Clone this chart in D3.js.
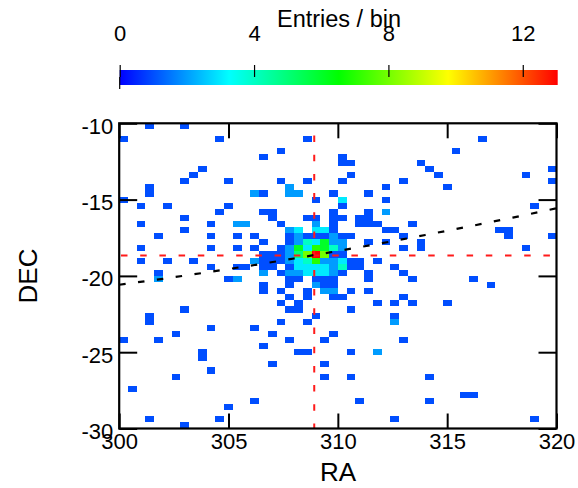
<!DOCTYPE html>
<html>
<head>
<meta charset="utf-8">
<script src="https://cdn.jsdelivr.net/npm/d3@7"></script>
<style>
  html, body { margin: 0; padding: 0; background: #fff; }
  svg { display: block; font-family: "Liberation Sans", Arial, Helvetica, sans-serif; }
</style>
</head>
<body>
<svg id="chart" width="578" height="488"></svg>
<script>
// ---------------- data ----------------
const raDomain = [300, 320];
const decDomain = [-30, -10];
const raTicks = [300, 305, 310, 315, 320];
const decTicks = [-10, -15, -20, -25, -30];
const colorTicks = [0, 4, 8, 12];
const colorMax = 13.04;
const binWidth = 0.4;

// lower DEC edge of each populated row of bins
const rowDecLow = [
  -10.4, -11.2, -12.0, -12.4, -12.8, -13.2, -13.6, -14.0, -14.4, -14.8,
  -15.2, -15.6, -16.0, -16.4, -16.8, -17.2, -17.6, -18.0, -18.4, -18.8,
  -19.2, -19.6, -20.0, -20.4, -20.8, -21.2, -21.6, -22.0, -22.4, -22.8,
  -23.2, -23.6, -24.0, -24.4, -24.8, -25.2, -25.6, -26.0, -26.4, -26.8,
  -27.6, -28.0, -28.4, -28.8, -29.6, -30.0
];
// lower RA edge of each filled bin, per row
const rowRaLow = [
  [301.2, 302.8],
  [300.0, 304.4, 308.4, 316.4],
  [307.2, 315.2],
  [306.4, 310.0],
  [310.0, 310.4, 313.6],
  [303.6, 314.0, 319.6],
  [303.2, 310.4, 314.4, 318.4],
  [302.8, 304.8, 307.2, 308.4, 310.0, 312.8, 319.6],
  [301.2, 307.6, 312.0, 314.8],
  [301.2, 306.0, 306.4, 307.6, 308.0, 309.6, 311.2],
  [300.0, 308.8, 310.0, 312.0],
  [300.8, 302.0, 304.8, 310.0, 318.8],
  [304.4, 306.4, 306.8, 309.6, 311.2, 312.0],
  [302.8, 306.8, 308.4, 308.8, 309.6, 310.0, 310.8, 311.2],
  [300.8, 304.0, 305.2, 305.6, 307.2, 308.8, 309.6, 310.8, 311.2, 311.6, 313.2],
  [302.8, 307.6, 308.0, 308.8, 309.2, 309.6, 312.0, 312.4, 317.2, 317.6],
  [301.6, 304.0, 305.2, 306.0, 307.6, 308.0, 308.4, 308.8, 309.2, 309.6, 310.0, 310.4, 312.8, 317.6, 319.6],
  [306.4, 307.6, 308.0, 308.4, 308.8, 309.2, 309.6, 310.0, 311.2, 312.0, 313.6],
  [300.8, 304.0, 305.2, 306.0, 307.2, 307.6, 308.0, 308.4, 308.8, 309.2, 309.6, 310.0, 312.8, 313.6, 318.4],
  [306.4, 306.8, 307.2, 307.6, 308.0, 308.4, 308.8, 309.2, 309.6, 310.0],
  [300.8, 302.0, 303.2, 306.0, 306.4, 306.8, 307.2, 307.6, 308.0, 308.4, 308.8, 309.2, 309.6, 310.0, 310.4, 310.8, 311.6],
  [304.0, 305.2, 305.6, 306.4, 306.8, 307.6, 308.0, 308.4, 308.8, 309.2, 309.6, 310.0, 310.4, 310.8, 312.4],
  [301.6, 306.4, 307.2, 307.6, 308.0, 308.4, 308.8, 309.2, 309.6, 310.0, 311.2, 312.8],
  [301.6, 304.8, 305.2, 307.6, 308.0, 308.8, 309.2, 309.6, 311.2, 313.2, 316.0],
  [306.4, 307.6, 308.8, 309.2, 309.6, 316.8],
  [306.4, 307.2, 308.4, 309.2, 309.6, 310.4, 311.2],
  [307.6, 308.4, 309.6, 310.0, 312.8],
  [307.2, 308.0, 311.6, 312.4, 313.2, 314.8],
  [302.8, 307.6, 308.0, 310.4],
  [301.2, 308.8, 312.4],
  [301.2, 307.2, 308.4, 312.4],
  [304.0, 306.0],
  [302.4, 306.8, 309.6],
  [300.0, 301.6, 307.6, 309.2, 312.8],
  [306.4],
  [303.6, 308.0, 308.4, 310.4, 311.6],
  [303.6],
  [306.8, 309.2],
  [304.0],
  [302.4, 309.2, 310.4, 314.0],
  [300.4],
  [315.6, 316.0],
  [306.0, 310.8, 314.0],
  [304.8],
  [301.2, 304.4, 312.4, 318.8],
  [302.8]
];
// entries in each filled bin, per row
const rowEntries = [
  [1, 1],
  [1, 1, 1, 1],
  [1, 1],
  [1, 1],
  [1, 1, 1],
  [1, 1, 1],
  [1, 1, 1, 1],
  [1, 1, 1, 1, 1, 1, 1],
  [1, 2, 1, 1],
  [1, 2, 1, 2, 2, 1, 1],
  [1, 1, 3, 1],
  [1, 1, 1, 1, 1],
  [1, 1, 1, 1, 1, 2],
  [1, 1, 1, 1, 1, 1, 1, 1],
  [1, 1, 2, 2, 1, 2, 1, 1, 1, 1, 1],
  [1, 2, 3, 3, 3, 1, 1, 1, 1, 1],
  [1, 1, 1, 1, 1, 2, 1, 1, 1, 2, 1, 1, 1, 1, 1],
  [1, 1, 2, 4, 3, 6, 2, 2, 1, 1, 1],
  [1, 1, 1, 1, 1, 2, 6, 3, 7, 6, 4, 2, 1, 1, 1],
  [1, 1, 1, 2, 5, 8, 13, 8, 1, 1],
  [1, 1, 1, 2, 1, 1, 1, 2, 3, 4, 7, 2, 2, 3, 1, 1, 1],
  [1, 1, 1, 1, 1, 1, 3, 3, 3, 3, 2, 4, 1, 1, 1],
  [1, 2, 1, 2, 2, 3, 3, 3, 2, 1, 1, 1],
  [2, 1, 2, 1, 1, 1, 1, 1, 1, 1, 1],
  [1, 1, 2, 1, 1, 1],
  [1, 1, 1, 2, 2, 1, 1],
  [1, 1, 1, 1, 1],
  [1, 1, 1, 1, 1, 1],
  [1, 1, 1, 1],
  [1, 1, 1],
  [1, 1, 1, 2],
  [1, 1],
  [1, 1, 1],
  [1, 1, 1, 1, 1],
  [1],
  [1, 1, 1, 1, 2],
  [1],
  [1, 1],
  [1],
  [1, 1, 1, 1],
  [1],
  [1, 1],
  [1, 1, 1],
  [1],
  [1, 1, 1, 1],
  [1]
];
// ecliptic curve (black dashed)
const eclRA = [300, 302, 304, 306, 308, 310, 312, 314, 316, 318, 320];
const eclDEC = [-20.58, -20.19, -19.77, -19.33, -18.86, -18.37, -17.86, -17.32, -16.76, -16.18, -15.57];
// source position (red dashed cross-hair)
const sourceRA = 308.92;
const sourceDEC = -18.66;

// ---------------- drawing ----------------
const svg = d3.select("#chart");
const x = d3.scaleLinear().domain(raDomain).range([119.2, 556.5]);
const y = d3.scaleLinear().domain(decDomain).range([428.5, 123.3]);
const cbX = d3.scaleLinear().domain([0, colorMax]).range([119.7, 557.7]);
const palette = ["#0000ff", "#00ffff", "#00ff00", "#ffff00", "#ff0000"];
const color = d3.scaleLinear()
  .domain(palette.map((_, i) => colorMax * i / (palette.length - 1)))
  .range(palette)
  .interpolate(d3.interpolateRgb);
const plainFormat = d => String(d);   // hyphen-minus, as in the reference

const cells = [];
rowDecLow.forEach((dec, r) => {
  rowRaLow[r].forEach((ra, k) => cells.push({ ra, dec, n: rowEntries[r][k] }));
});

svg.append("rect").attr("width", 578).attr("height", 488).attr("fill", "#fff");

// cells
svg.append("g").selectAll("rect").data(cells).join("rect")
  .attr("x", d => x(d.ra))
  .attr("y", d => y(d.dec + binWidth))
  .attr("width", d => x(d.ra + binWidth) - x(d.ra))
  .attr("height", d => y(d.dec) - y(d.dec + binWidth))
  .attr("fill", d => color(d.n))
  .attr("shape-rendering", "crispEdges");

// red cross-hair
svg.append("line")
  .attr("x1", x(raDomain[0])).attr("x2", x(raDomain[1]))
  .attr("y1", y(sourceDEC)).attr("y2", y(sourceDEC))
  .attr("stroke", "#ff1a1a").attr("stroke-width", 2)
  .attr("stroke-dasharray", "6.5,12.7").attr("stroke-dashoffset", -1.8);
svg.append("line")
  .attr("x1", x(sourceRA)).attr("x2", x(sourceRA))
  .attr("y1", y(decDomain[1])).attr("y2", y(decDomain[0]))
  .attr("stroke", "#ff1a1a").attr("stroke-width", 2)
  .attr("stroke-dasharray", "6.5,12.7").attr("stroke-dashoffset", 7);

// ecliptic
svg.append("path")
  .datum(eclRA.map((r, i) => [r, eclDEC[i]]))
  .attr("d", d3.line().x(d => x(d[0])).y(d => y(d[1])))
  .attr("fill", "none").attr("stroke", "#000").attr("stroke-width", 2.2)
  .attr("stroke-dasharray", "6.5,12.5");

// axes
const fontSize = 22;
function styleAxis(g) {
  g.select(".domain").remove();
  g.selectAll(".tick line").attr("stroke", "#000").attr("stroke-width", 2);
  g.selectAll("text").attr("font-size", fontSize).attr("fill", "#000")
    .attr("font-family", '"Liberation Sans", Arial, sans-serif');
}
svg.append("g").attr("transform", `translate(0,${y(-30)})`)
  .call(d3.axisBottom(x).tickValues(raTicks).tickFormat(plainFormat)
    .tickSizeInner(-15).tickSizeOuter(0).tickPadding(5))
  .call(styleAxis);
svg.append("g").attr("transform", `translate(0,${y(-10)})`)
  .call(d3.axisTop(x).tickValues(raTicks).tickSizeInner(-15).tickSizeOuter(0).tickFormat(""))
  .call(styleAxis);
svg.append("g").attr("transform", `translate(${x(300)},0)`)
  .call(d3.axisLeft(y).tickValues(decTicks).tickFormat(plainFormat)
    .tickSizeInner(-18).tickSizeOuter(0).tickPadding(6))
  .call(styleAxis)
  .call(g => g.selectAll("text").attr("dy", "0.45em"));
svg.append("g").attr("transform", `translate(${x(320)},0)`)
  .call(d3.axisRight(y).tickValues(decTicks).tickSizeInner(-18).tickSizeOuter(0).tickFormat(""))
  .call(styleAxis);

// frame
svg.append("rect")
  .attr("x", x(300)).attr("y", y(-10))
  .attr("width", x(320) - x(300)).attr("height", y(-30) - y(-10))
  .attr("fill", "none").attr("stroke", "#000").attr("stroke-width", 2.2);

// axis titles
svg.append("text").attr("x", 338).attr("y", 481).attr("text-anchor", "middle")
  .attr("font-size", 26).text("RA");
svg.append("text").attr("transform", "translate(37,276) rotate(-90)").attr("text-anchor", "middle")
  .attr("font-size", 26).text("DEC");

// colour bar
const defs = svg.append("defs");
const grad = defs.append("linearGradient").attr("id", "cbgrad")
  .attr("x1", "0%").attr("x2", "100%").attr("y1", "0%").attr("y2", "0%");
d3.range(0, 21).forEach(k => {
  const v = colorMax * k / 20;
  grad.append("stop").attr("offset", `${k * 5}%`).attr("stop-color", color(v));
});
svg.append("rect")
  .attr("x", cbX(0)).attr("y", 70)
  .attr("width", cbX(colorMax) - cbX(0)).attr("height", 15)
  .attr("fill", "url(#cbgrad)");
svg.append("g").attr("transform", "translate(0,77)")
  .call(d3.axisTop(cbX).tickValues(colorTicks).tickFormat(plainFormat)
    .tickSizeInner(12).tickSizeOuter(0).tickPadding(24))
  .call(styleAxis)
  .call(g => g.selectAll(".tick line").attr("stroke-width", 1.2));
svg.append("line").attr("x1", cbX(0)).attr("x2", cbX(0)).attr("y1", 77).attr("y2", 89)
  .attr("stroke", "#000").attr("stroke-width", 1.2);
svg.append("text").attr("x", 339).attr("y", 27).attr("text-anchor", "middle")
  .attr("font-size", 23.5).text("Entries / bin");
</script>
</body>
</html>
